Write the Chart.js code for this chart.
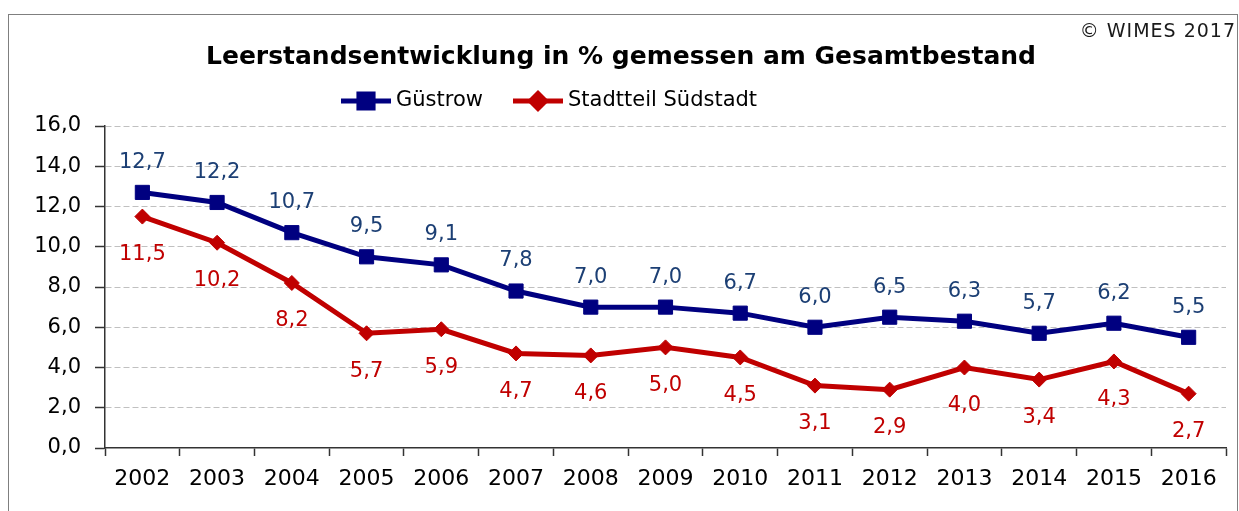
<!DOCTYPE html>
<html lang="de">
<head>
<meta charset="UTF-8">
<title>Leerstandsentwicklung</title>
<script src="https://cdn.jsdelivr.net/npm/chart.js"></script>
<style>
  html, body { margin: 0; padding: 0; background: #fff; }
  #wrap { width: 1239px; height: 511px; }
</style>
</head>
<body>
<div id="wrap"><canvas id="chart" width="1239" height="511"></canvas></div>
<script>
// data
const years = ['2002', '2003', '2004', '2005', '2006', '2007', '2008', '2009',
               '2010', '2011', '2012', '2013', '2014', '2015', '2016'];
const guestrow = [12.7, 12.2, 10.7, 9.5, 9.1, 7.8, 7.0, 7.0, 6.7, 6.0, 6.5, 6.3, 5.7, 6.2, 5.5];
const suedstadt = [11.5, 10.2, 8.2, 5.7, 5.9, 4.7, 4.6, 5.0, 4.5, 3.1, 2.9, 4.0, 3.4, 4.3, 2.7];
const seriesNames = ['Güstrow', 'Stadtteil Südstadt'];
const chartTitle = 'Leerstandsentwicklung in % gemessen am Gesamtbestand';
const copyright = '© WIMES 2017';

const FONT = '"DejaVu Sans", Verdana, sans-serif';
const fmt = v => v.toFixed(1).replace('.', ',');

// frame, title, copyright, legend
const decorations = {
    id: 'decorations',
    beforeDraw(chart) {
        const ctx = chart.ctx;
        ctx.save();
        ctx.fillStyle = '#fff';
        ctx.fillRect(0, 0, chart.width, chart.height);
        ctx.strokeStyle = '#7f7f7f';
        ctx.lineWidth = 1;
        ctx.strokeRect(8.5, 14.5, 1229, 520);
        ctx.restore();
    },
    afterDraw(chart) {
        const ctx = chart.ctx;
        ctx.save();
        ctx.fillStyle = '#000';
        ctx.textAlign = 'center';
        ctx.textBaseline = 'middle';
        ctx.font = 'bold 25px ' + FONT;
        ctx.fillText(chartTitle, 621, 57);

        ctx.font = '19px ' + FONT;
        ctx.textAlign = 'right';
        ctx.fillStyle = '#1a1a1a';
        ctx.letterSpacing = '1px';
        ctx.fillText(copyright, 1236, 32);
        ctx.letterSpacing = '0px';

        // legend: line + marker + text
        const spots = [341, 513];
        chart.data.datasets.forEach((ds, i) => {
            const x0 = spots[i], y = 101;
            ctx.strokeStyle = ds.borderColor;
            ctx.lineWidth = 5;
            ctx.beginPath();
            ctx.moveTo(x0, y);
            ctx.lineTo(x0 + 50, y);
            ctx.stroke();
            Chart.helpers.drawPoint(ctx, {
                pointStyle: ds.pointStyle,
                radius: ds.pointRadius,
                rotation: 0,
                borderWidth: 1
            }, x0 + 25, y);
            ctx.fillStyle = ds.pointBackgroundColor;
            ctx.fill();
            ctx.fillStyle = '#000';
            ctx.textAlign = 'left';
            ctx.font = '21px ' + FONT;
            ctx.fillText(ds.label, x0 + 55, y);
        });
        ctx.restore();
    }
};

// value labels above / below the points
const valueLabels = {
    id: 'valueLabels',
    afterDatasetsDraw(chart) {
        const ctx = chart.ctx;
        chart.data.datasets.forEach((ds, i) => {
            const meta = chart.getDatasetMeta(i);
            ctx.save();
            ctx.font = '21px ' + FONT;
            ctx.fillStyle = ds.labelColor;
            ctx.textAlign = 'center';
            ctx.textBaseline = 'middle';
            meta.data.forEach((pt, j) => {
                ctx.fillText(fmt(ds.data[j]), pt.x, pt.y + ds.labelOffset);
            });
            ctx.restore();
        });
    }
};

new Chart(document.getElementById('chart'), {
    type: 'line',
    data: {
        labels: years,
        datasets: [{
            label: seriesNames[0],
            data: guestrow,
            borderColor: '#000080',
            backgroundColor: '#000080',
            pointBackgroundColor: '#000080',
            pointBorderColor: '#000080',
            borderWidth: 5,
            pointStyle: 'rect',
            pointRadius: 10,
            pointBorderWidth: 1,
            tension: 0,
            labelColor: '#1c3f74',
            labelOffset: -30
        }, {
            label: seriesNames[1],
            data: suedstadt,
            borderColor: '#c00000',
            backgroundColor: '#c00000',
            pointBackgroundColor: '#c00000',
            pointBorderColor: '#c00000',
            borderWidth: 5,
            pointStyle: 'rectRot',
            pointRadius: 7.5,
            pointBorderWidth: 1,
            tension: 0,
            labelColor: '#c00000',
            labelOffset: 38
        }]
    },
    options: {
        responsive: false,
        animation: false,
        events: [],
        layout: { padding: { top: 126, right: 13, bottom: 0, left: 0 } },
        plugins: {
            legend: { display: false },
            title: { display: false },
            tooltip: { enabled: false }
        },
        scales: {
            x: {
                offset: true,
                grid: {
                    offset: true,
                    drawOnChartArea: false,
                    drawTicks: true,
                    tickLength: 8,
                    tickColor: '#333',
                    tickWidth: 1.5
                },
                border: { color: '#333', width: 1.5 },
                ticks: {
                    color: '#000',
                    font: { family: FONT, size: 22 },
                    padding: 10,
                    maxRotation: 0
                },
                afterFit(scale) { scale.height = 63; }
            },
            y: {
                min: 0,
                max: 16,
                grid: {
                    color: ctx => ctx.tick && ctx.tick.value === 0 ? 'rgba(0,0,0,0)' : '#c0c0c0',
                    lineWidth: 1,
                    tickLength: 10,
                    tickColor: '#333',
                    tickWidth: 1.5,
                    tickBorderDash: []
                },
                border: { color: '#333', width: 1.5, dash: [6, 3] },
                ticks: {
                    stepSize: 2,
                    color: '#000',
                    font: { family: FONT, size: 21 },
                    padding: 14,
                    callback: v => fmt(v)
                },
                afterFit(scale) { scale.width = 105; }
            }
        }
    },
    plugins: [decorations, valueLabels]
});
</script>
</body>
</html>
